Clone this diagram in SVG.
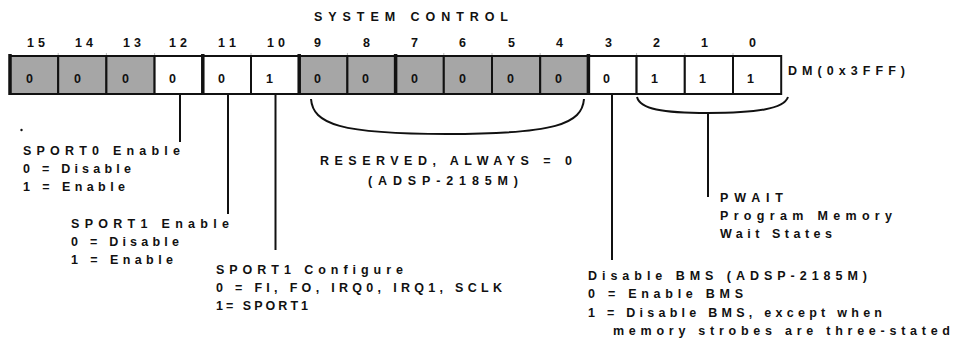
<svg xmlns="http://www.w3.org/2000/svg" width="953" height="341" viewBox="0 0 953 341">
<style>
text{font-family:"Liberation Sans",Arial,sans-serif;font-weight:bold;fill:#111;}
.lbl{font-size:12.5px;}
.bit{font-size:12.5px;}
.val{font-size:12.5px;}
.g{fill:#a6a6a6;stroke:#111;stroke-width:2;}
.w{fill:#fff;stroke:#111;stroke-width:2;}
.sep{stroke:#111;stroke-width:3.5;}
.tick{stroke:#bbb;stroke-width:1;}
.con{stroke:#111;stroke-width:2;fill:none;}
</style>
<rect width="953" height="341" fill="#fff"/>
<g id="title"><text class="lbl" x="314" y="21" textLength="194" lengthAdjust="spacing">SYSTEM CONTROL</text></g>
<g id="bit-numbers">
<text class="bit" x="27" y="47" textLength="18" lengthAdjust="spacing">15</text>
<text class="bit" x="75" y="47" textLength="18" lengthAdjust="spacing">14</text>
<text class="bit" x="123" y="47" textLength="18" lengthAdjust="spacing">13</text>
<text class="bit" x="169" y="47" textLength="18" lengthAdjust="spacing">12</text>
<text class="bit" x="218" y="47" textLength="18" lengthAdjust="spacing">11</text>
<text class="bit" x="267" y="47" textLength="18" lengthAdjust="spacing">10</text>
<text class="bit" x="314" y="47">9</text>
<text class="bit" x="363" y="47">8</text>
<text class="bit" x="411" y="47">7</text>
<text class="bit" x="459" y="47">6</text>
<text class="bit" x="508" y="47">5</text>
<text class="bit" x="556" y="47">4</text>
<text class="bit" x="605" y="47">3</text>
<text class="bit" x="653" y="47">2</text>
<text class="bit" x="701" y="47">1</text>
<text class="bit" x="749" y="47">0</text>
</g>
<g id="register">
<line class="tick" x1="58.2" y1="53" x2="58.2" y2="56"/>
<line class="tick" x1="106.4" y1="53" x2="106.4" y2="56"/>
<line class="tick" x1="154.6" y1="53" x2="154.6" y2="56"/>
<line class="tick" x1="251" y1="53" x2="251" y2="56"/>
<line class="tick" x1="347.4" y1="53" x2="347.4" y2="56"/>
<line class="tick" x1="443.8" y1="53" x2="443.8" y2="56"/>
<line class="tick" x1="492" y1="53" x2="492" y2="56"/>
<line class="tick" x1="540.2" y1="53" x2="540.2" y2="56"/>
<line class="tick" x1="636.6" y1="53" x2="636.6" y2="56"/>
<line class="tick" x1="684.8" y1="53" x2="684.8" y2="56"/>
<line class="tick" x1="733" y1="53" x2="733" y2="56"/>
<rect class="g" x="10" y="56" width="48.2" height="38"/>
<rect class="g" x="58.2" y="56" width="48.2" height="38"/>
<rect class="g" x="106.4" y="56" width="48.2" height="38"/>
<rect class="w" x="154.6" y="56" width="48.2" height="38"/>
<rect class="w" x="202.8" y="56" width="48.2" height="38"/>
<rect class="w" x="251" y="56" width="48.2" height="38"/>
<rect class="g" x="299.2" y="56" width="48.2" height="38"/>
<rect class="g" x="347.4" y="56" width="48.2" height="38"/>
<rect class="g" x="395.6" y="56" width="48.2" height="38"/>
<rect class="g" x="443.8" y="56" width="48.2" height="38"/>
<rect class="g" x="492" y="56" width="48.2" height="38"/>
<rect class="g" x="540.2" y="56" width="48.2" height="38"/>
<rect class="w" x="588.4" y="56" width="48.2" height="38"/>
<rect class="w" x="636.6" y="56" width="48.2" height="38"/>
<rect class="w" x="684.8" y="56" width="48.2" height="38"/>
<rect class="w" x="733" y="56" width="48.2" height="38"/>
<line class="sep" x1="10" y1="54" x2="10" y2="95"/>
<line class="sep" x1="202.8" y1="54" x2="202.8" y2="95"/>
<line class="sep" x1="299.2" y1="54" x2="299.2" y2="95"/>
<line class="sep" x1="395.6" y1="54" x2="395.6" y2="95"/>
<line class="sep" x1="588.4" y1="54" x2="588.4" y2="95"/>
<text class="val" x="26" y="83">0</text>
<text class="val" x="74" y="83">0</text>
<text class="val" x="122" y="83">0</text>
<text class="val" x="169" y="83">0</text>
<text class="val" x="218" y="83">0</text>
<text class="val" x="266" y="83">1</text>
<text class="val" x="314" y="83">0</text>
<text class="val" x="362" y="83">0</text>
<text class="val" x="411" y="83">0</text>
<text class="val" x="459" y="83">0</text>
<text class="val" x="507" y="83">0</text>
<text class="val" x="555" y="83">0</text>
<text class="val" x="603" y="83">0</text>
<text class="val" x="651" y="83">1</text>
<text class="val" x="699" y="83">1</text>
<text class="val" x="747" y="83">1</text>
</g>
<g id="address"><text class="lbl" x="788" y="75" textLength="117" lengthAdjust="spacing">DM(0x3FFF)</text></g>
<g id="connectors">
<line class="con" x1="180" y1="94" x2="180" y2="142"/>
<line class="con" x1="228" y1="94" x2="228" y2="214"/>
<line class="con" x1="275.5" y1="94" x2="275.5" y2="250"/>
<line class="con" x1="612" y1="94" x2="612" y2="260"/>
<path class="con" d="M311,99 C313,124 340,134 447,134 C555,134 582,124 584,99"/>
<path class="con" d="M637,97 C640,109 662,113 708,113 C756,113 784,109 788,97"/>
<line class="con" x1="708" y1="113" x2="708" y2="197"/>
</g>
<g id="dot"><circle cx="21.5" cy="130" r="1.2" fill="#111"/></g>
<g id="sport0-enable">
<text class="lbl" x="23" y="155" textLength="157" lengthAdjust="spacing">SPORT0 Enable</text>
<text class="lbl" x="23" y="173" textLength="108" lengthAdjust="spacing">0 = Disable</text>
<text class="lbl" x="23" y="191" textLength="102" lengthAdjust="spacing">1 = Enable</text>
</g>
<g id="sport1-enable">
<text class="lbl" x="71" y="228" textLength="158" lengthAdjust="spacing">SPORT1 Enable</text>
<text class="lbl" x="71" y="246" textLength="108" lengthAdjust="spacing">0 = Disable</text>
<text class="lbl" x="71" y="264" textLength="102" lengthAdjust="spacing">1 = Enable</text>
</g>
<g id="sport1-configure">
<text class="lbl" x="216" y="274" textLength="187" lengthAdjust="spacing">SPORT1 Configure</text>
<text class="lbl" x="216" y="292" textLength="286" lengthAdjust="spacing">0 = FI, FO, IRQ0, IRQ1, SCLK</text>
<text class="lbl" x="216" y="310" textLength="92" lengthAdjust="spacing">1= SPORT1</text>
</g>
<g id="reserved">
<text class="lbl" x="320" y="165" textLength="252" lengthAdjust="spacing">RESERVED, ALWAYS = 0</text>
<text class="lbl" x="368" y="185" textLength="150" lengthAdjust="spacing">(ADSP-2185M)</text>
</g>
<g id="pwait">
<text class="lbl" x="720" y="202" textLength="63" lengthAdjust="spacing">PWAIT</text>
<text class="lbl" x="720" y="220" textLength="172" lengthAdjust="spacing">Program Memory</text>
<text class="lbl" x="720" y="238" textLength="112" lengthAdjust="spacing">Wait States</text>
</g>
<g id="disable-bms">
<text class="lbl" x="588" y="280" textLength="279" lengthAdjust="spacing">Disable BMS (ADSP-2185M)</text>
<text class="lbl" x="588" y="298" textLength="155" lengthAdjust="spacing">0 = Enable BMS</text>
<text class="lbl" x="588" y="317" textLength="294" lengthAdjust="spacing">1 = Disable BMS, except when</text>
<text class="lbl" x="613" y="335" textLength="337" lengthAdjust="spacing">memory strobes are three-stated</text>
</g>
</svg>
